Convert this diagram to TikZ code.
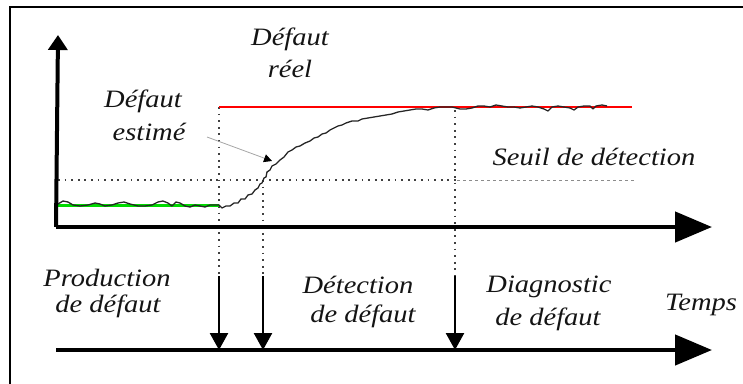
\documentclass[tikz,border=0pt]{standalone}
\usepackage{fontspec}
\newfontfamily\labfont[FakeStretch=1.14]{Liberation Serif}
\usetikzlibrary{arrows.meta}
\begin{document}
\begin{tikzpicture}[x=1pt,y=-1pt,
  lab/.style={font=\labfont\itshape\fontsize{25}{28}\selectfont, text=black!92, inner sep=0pt, anchor=base},
  axis/.style={line width=4.5pt, -{Triangle[length=37pt,width=30pt]}},
  vaxis/.style={line width=4pt, -{Triangle[length=15pt,width=19pt]}},
  evt/.style={line width=2.5pt, -{Triangle[length=17pt,width=18pt]}},
  vdots/.style={line width=2pt, black!75, dash pattern=on 1.8pt off 4.8pt},
  thr/.style={line width=2pt, black!75, dash pattern=on 1.8pt off 4.8pt},
  thrlight/.style={line width=1pt, black!45, dash pattern=on 3pt off 3pt},
  sig/.style={line width=1.3pt, black!85, line join=round}
]
\useasboundingbox (0,0) rectangle (743,383);
% frame (cropped at right and bottom)
\draw[line width=2pt] (10,400) -- (10,7) -- (760,7);

% coordinates
\coordinate (O) at (56,227);
\coordinate (Ytip) at (58,35);
\coordinate (Xtip) at (712,227);
\coordinate (T0) at (56,350);
\coordinate (Ttip) at (712,350);
\coordinate (p1) at (219,107);
\coordinate (p2) at (263,180);
\coordinate (p3) at (455,110);
\coordinate (a1) at (219,276);
\coordinate (a2) at (263,276);
\coordinate (a3) at (455,276);
\coordinate (b1) at (219,350);
\coordinate (b2) at (263,350);
\coordinate (b3) at (455,350);
\coordinate (thrS) at (58,180);
\coordinate (thrM) at (457,180);
\coordinate (thrE) at (635,180);
\coordinate (redS) at (219,107);
\coordinate (redE) at (632,107);
\coordinate (grS) at (58,205);
\coordinate (grE) at (219,205);
\coordinate (estS) at (207,137);
\coordinate (estE) at (272,161);

% threshold
\draw[thr] (thrS) -- (thrM);
\draw[thrlight] (thrM) -- (thrE);
% vertical dotted
\draw[vdots] (p1) -- (a1);
\draw[vdots] (p2) -- (a2);
\draw[vdots] (p3) -- (a3);
% real fault
\draw[red, line width=2.5pt] (redS) -- (redE);
% green
\draw[green!85!black, line width=3pt] (grS) -- (grE);
% estimated signal
\draw[sig] (58,204) -- (63,201) -- (68,202) -- (73,205) -- (80,206) -- (88,205) -- (95,203) -- (100,204) -- (105,206) -- (112,205) -- (118,203) -- (124,202) -- (130,204) -- (138,206) -- (145,206) -- (152,205) -- (158,202) -- (163,201) -- (168,203) -- (172,206) -- (176,202) -- (180,203) -- (185,206) -- (190,207) -- (195,205) -- (200,206) -- (205,207) -- (210,205) -- (215,205) -- (219,205) -- (222,208) -- (226,206) -- (230,206) -- (234,203) -- (238,203) -- (241,199) -- (245,199) -- (248,195) -- (252,194) -- (255,190) -- (258,188) -- (260,184) -- (262,183) -- (264,178) -- (266,177) -- (267,172) -- (270,170) -- (272,166) -- (276,164) -- (280,160) -- (284,157) -- (288,152) -- (292,150) -- (296,147) -- (300,146) -- (305,143) -- (310,141) -- (314,138) -- (318,137) -- (322,134) -- (326,133) -- (330,130) -- (334,128) -- (338,126) -- (342,125) -- (346,123) -- (352,121) -- (358,121) -- (362,119) -- (368,118) -- (374,117) -- (380,116) -- (386,115) -- (392,114) -- (398,112) -- (404,111) -- (410,110) -- (416,109) -- (422,109) -- (428,110) -- (434,108) -- (440,107) -- (446,107) -- (452,107) -- (456,108) -- (460,109) -- (466,109) -- (472,108) -- (478,106) -- (484,106) -- (490,107) -- (496,105) -- (502,106) -- (508,107) -- (514,107) -- (520,108) -- (526,107) -- (532,106) -- (538,107) -- (544,109) -- (548,111) -- (552,107) -- (558,106) -- (564,107) -- (570,108) -- (574,110) -- (578,107) -- (584,106) -- (590,106) -- (593,109) -- (596,106) -- (602,105) -- (607,106);
% pointer
\draw[black!35, line width=0.8pt, -{Triangle[length=8pt,width=8pt,color=black]}] (estS) -- (estE);

% axes
\draw[vaxis] (O) -- (Ytip);
\draw[axis] (O) -- (Xtip);
\draw[axis] (T0) -- (Ttip);
% event arrows
\draw[evt] (a1) -- (b1);
\draw[evt] (a2) -- (b2);
\draw[evt] (a3) -- (b3);

% labels
\node[lab] (dr1) at (290,45) {Défaut};
\node[lab] (dr2) at (290,77) {réel};
\node[lab] (de1) at (143,107) {Défaut};
\node[lab] (de2) at (149,140) {estimé};
\node[lab] (seuil) at (594,165) {Seuil de détection};
\node[lab] (pr1) at (107,286) {Production};
\node[lab] (pr2) at (108,312) {de défaut};
\node[lab] (dt1) at (358,293) {Détection};
\node[lab] (dt2) at (363,322) {de défaut};
\node[lab] (dg1) at (549,292) {Diagnostic};
\node[lab] (dg2) at (548,325) {de défaut};
\node[lab] (tp) at (701,310) {Temps};
\end{tikzpicture}
\end{document}
